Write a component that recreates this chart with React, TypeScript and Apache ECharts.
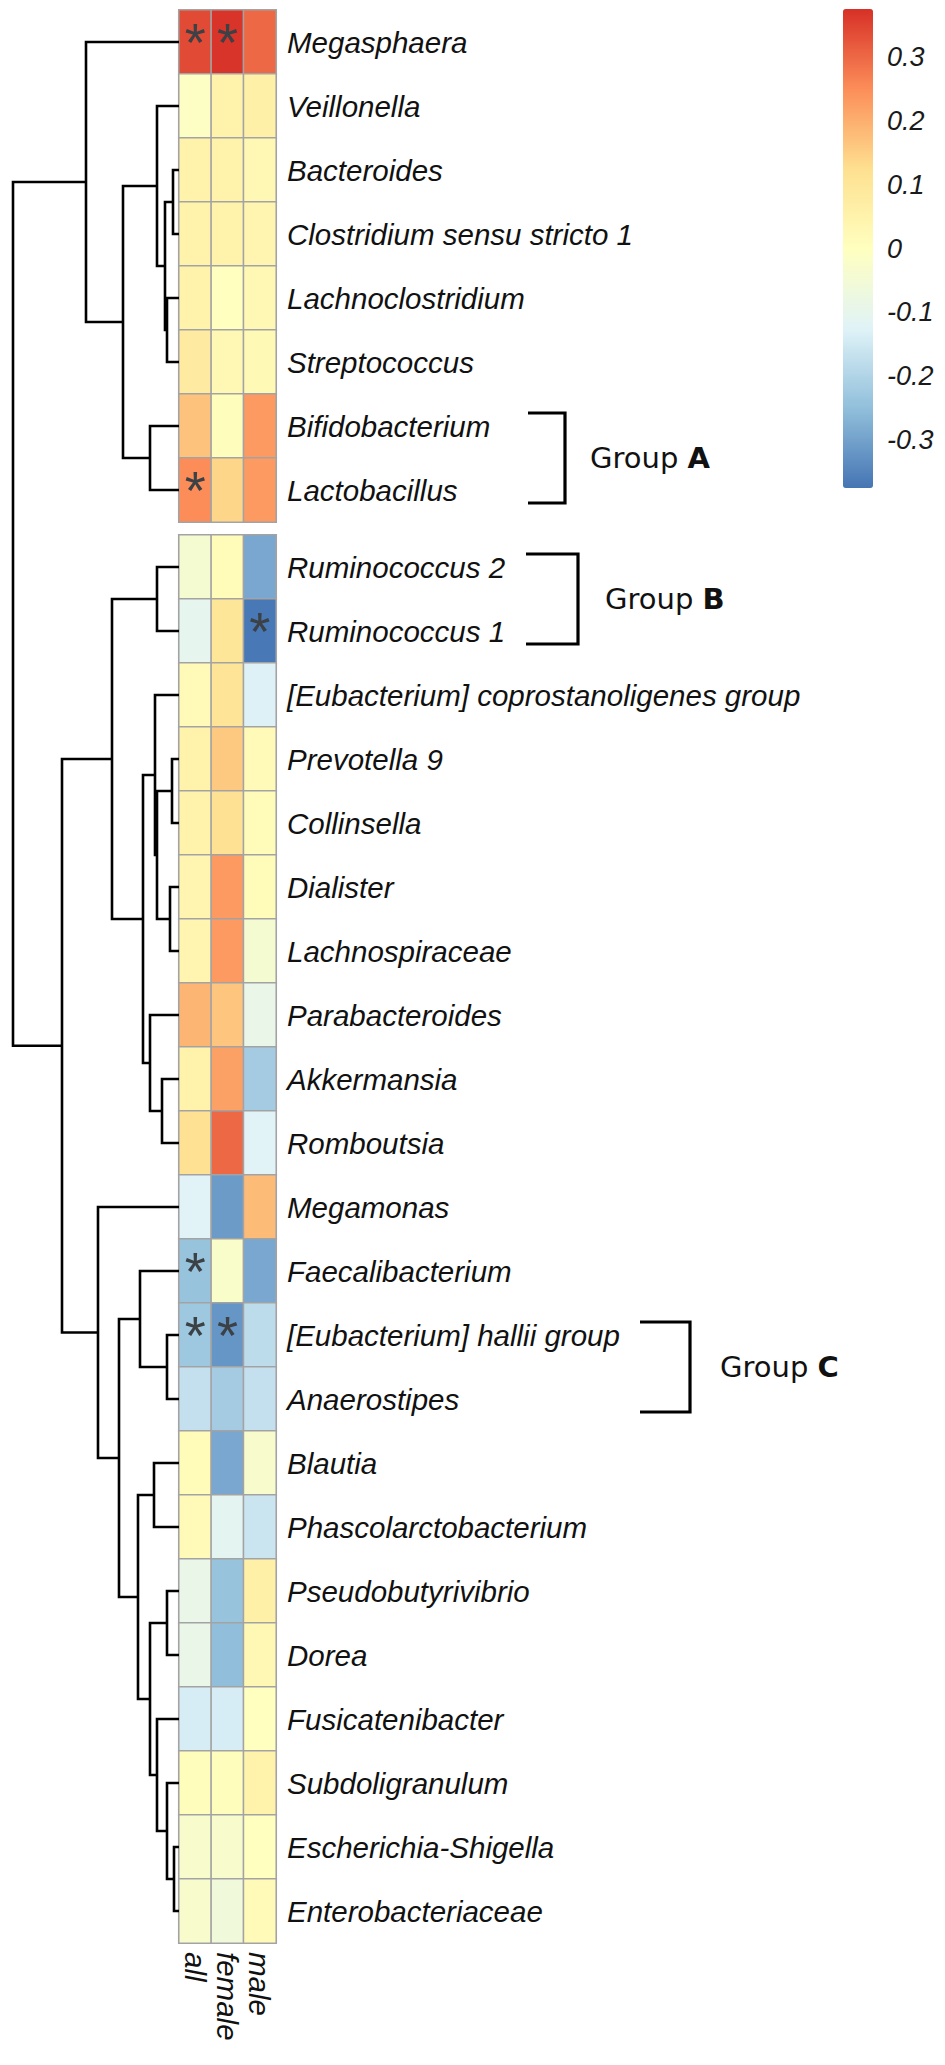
import React, { useEffect, useRef } from "react";
import * as echarts from "echarts";

// ---------------- data ----------------
const columns = ["all", "female", "male"];

const topRows = [
  "Megasphaera",
  "Veillonella",
  "Bacteroides",
  "Clostridium sensu stricto 1",
  "Lachnoclostridium",
  "Streptococcus",
  "Bifidobacterium",
  "Lactobacillus",
];

const bottomRows = [
  "Ruminococcus 2",
  "Ruminococcus 1",
  "[Eubacterium] coprostanoligenes group",
  "Prevotella 9",
  "Collinsella",
  "Dialister",
  "Lachnospiraceae",
  "Parabacteroides",
  "Akkermansia",
  "Romboutsia",
  "Megamonas",
  "Faecalibacterium",
  "[Eubacterium] hallii group",
  "Anaerostipes",
  "Blautia",
  "Phascolarctobacterium",
  "Pseudobutyrivibrio",
  "Dorea",
  "Fusicatenibacter",
  "Subdoligranulum",
  "Escherichia-Shigella",
  "Enterobacteriaceae",
];

const allValues = [
  0.34, -0.01, 0.05, 0.05, 0.05, 0.08, 0.17, 0.25,
  -0.04, -0.1, 0.02, 0.05, 0.05, 0.04, 0.04, 0.19, 0.05, 0.12, -0.12, -0.24,
  -0.23, -0.17, 0.015, 0.02, -0.09, -0.09, -0.14, 0.01, -0.03, -0.03,
];
const femaleValues = [
  0.37, 0.05, 0.05, 0.05, 0.0, 0.03, 0.01, 0.14,
  0.015, 0.1, 0.11, 0.16, 0.12, 0.23, 0.23, 0.165, 0.22, 0.3, -0.31, -0.025,
  -0.32, -0.22, -0.29, -0.11, -0.24, -0.25, -0.14, 0.01, -0.03, -0.06,
];
const maleValues = [
  0.3, 0.06, 0.03, 0.04, 0.03, 0.025, 0.23, 0.23,
  -0.29, -0.37, -0.13, 0.02, 0.015, 0.015, -0.04, -0.09, -0.22, -0.12, 0.18, -0.29,
  -0.18, -0.17, -0.03, -0.16, 0.06, 0.03, 0.0, 0.05, 0.0, 0.02,
];

const significant = [
  ["Megasphaera", "all"],
  ["Megasphaera", "female"],
  ["Lactobacillus", "all"],
  ["Ruminococcus 1", "male"],
  ["Faecalibacterium", "all"],
  ["[Eubacterium] hallii group", "all"],
  ["[Eubacterium] hallii group", "female"],
];

const colorbarTicks = [-0.3, -0.2, -0.1, 0, 0.1, 0.2, 0.3];
const colorMin = -0.375;
const colorMax = 0.375;
const palette = ["#4575B4", "#91BFDB", "#E0F3F8", "#FFFFBF", "#FEE090", "#FC8D59", "#D73027"];

// dendrogram merges: [id, childA, childB, height]
const dendroNodes: [string, string, string, number][] = [
  ["u1", "Bacteroides", "Clostridium sensu stricto 1", 6],
  ["u2", "Lachnoclostridium", "Streptococcus", 12],
  ["u3", "u1", "u2", 14],
  ["u4", "Veillonella", "u3", 22],
  ["u5", "Bifidobacterium", "Lactobacillus", 29],
  ["u6", "u4", "u5", 56],
  ["u7", "Megasphaera", "u6", 93],
  ["l1", "Ruminococcus 2", "Ruminococcus 1", 22],
  ["l2", "Prevotella 9", "Collinsella", 7],
  ["l3", "Dialister", "Lachnospiraceae", 9],
  ["l4", "l2", "l3", 22],
  ["l5", "[Eubacterium] coprostanoligenes group", "l4", 24],
  ["l6", "Akkermansia", "Romboutsia", 17],
  ["l7", "Parabacteroides", "l6", 29],
  ["l8", "l5", "l7", 36],
  ["l9", "l1", "l8", 67],
  ["l10", "[Eubacterium] hallii group", "Anaerostipes", 12],
  ["l11", "Faecalibacterium", "l10", 39],
  ["l12", "Blautia", "Phascolarctobacterium", 25],
  ["l13", "Pseudobutyrivibrio", "Dorea", 12],
  ["l14", "Escherichia-Shigella", "Enterobacteriaceae", 5],
  ["l15", "Subdoligranulum", "l14", 12],
  ["l16", "Fusicatenibacter", "l15", 22],
  ["l17", "l13", "l16", 29],
  ["l18", "l12", "l17", 41],
  ["l19", "l11", "l18", 60],
  ["l20", "Megamonas", "l19", 81],
  ["l21", "l9", "l20", 117],
  ["root", "u7", "l21", 166],
];
const dendroMaxHeight = 166;

const groupNames = ["A", "B", "C"];
const groupMembers = [
  ["Bifidobacterium", "Lactobacillus"],
  ["Ruminococcus 2", "Ruminococcus 1"],
  ["[Eubacterium] hallii group", "Anaerostipes"],
];

// ---------------- layout ----------------
const ROW = 64;
const TOP = 10;
const GAP_PX = 13;
const HM_LEFT = 179;
const HM_W = 97;
const DENDRO_LEFT = 13;
const LABEL_FONT = "Liberation Sans";
const bracketLayout = [
  { arm: 37, vx: 565, labelX: 590 },
  { arm: 52, vx: 578, labelX: 605 },
  { arm: 50, vx: 690, labelX: 720 },
];

const allRows = [...topRows, ...bottomRows];
const valueCols = [allValues, femaleValues, maleValues];
const GAP = GAP_PX / ROW;

function isSig(row: string, col: string) {
  return significant.some((s) => s[0] === row && s[1] === col);
}

function blockData(rows: string[]) {
  const out: any[] = [];
  rows.forEach((r, ri) => {
    const gi = allRows.indexOf(r);
    columns.forEach((c, ci) => {
      out.push([ci, ri, valueCols[ci][gi], isSig(r, c) ? 1 : 0]);
    });
  });
  return out;
}

function leafY(name: string) {
  const i = allRows.indexOf(name);
  return i + 0.5 + (i >= topRows.length ? GAP : 0);
}
const nodeMap: Record<string, { a: string; b: string; h: number }> = {};
dendroNodes.forEach(([id, a, b, h]) => (nodeMap[id] = { a, b, h }));
function nodePos(id: string): { h: number; y: number } {
  const n = nodeMap[id];
  if (!n) return { h: 0, y: leafY(id) };
  return { h: n.h, y: (nodePos(n.a).y + nodePos(n.b).y) / 2 };
}
const dendroSegments = dendroNodes.map(([, a, b, h]) => {
  const pa = nodePos(a);
  const pb = nodePos(b);
  return { coords: [[pa.h, pa.y], [h, pa.y], [h, pb.y], [pb.h, pb.y]] };
});

function groupSeries(rows: string[], gridIdx: number) {
  const data: any[] = [];
  groupMembers.forEach((m, gi) => {
    const a = rows.indexOf(m[0]);
    const b = rows.indexOf(m[m.length - 1]);
    if (a >= 0 && b >= 0) data.push([0, a, b, gi]);
  });
  return {
    type: "custom",
    xAxisIndex: gridIdx,
    yAxisIndex: gridIdx,
    silent: true,
    clip: false,
    z: 10,
    data,
    renderItem: (params: any, api: any) => {
      const a = api.value(1);
      const b = api.value(2);
      const gi = api.value(3);
      const lay = bracketLayout[gi];
      const y0 = api.coord([0, a])[1] - 13;
      const y1 = api.coord([0, b])[1] + 13;
      return {
        type: "group",
        children: [
          {
            type: "polyline",
            shape: { points: [[lay.vx - lay.arm, y0], [lay.vx, y0], [lay.vx, y1], [lay.vx - lay.arm, y1]] },
            style: { stroke: "#000", lineWidth: 3.2, fill: null },
          },
          {
            type: "text",
            style: {
              x: lay.labelX,
              y: (y0 + y1) / 2,
              text: "Group {b|" + groupNames[gi] + "}",
              fontFamily: "DejaVu Sans",
              fontSize: 29,
              fill: "#111",
              verticalAlign: "middle",
              align: "left",
              rich: {
                b: { fontFamily: "DejaVu Sans", fontSize: 29, fontWeight: "bold", fill: "#111" },
              },
            },
          },
        ],
      };
    },
  };
}

const rowLabelStyle = {
  fontSize: 29.5,
  fontStyle: "italic",
  fontFamily: LABEL_FONT,
  color: "#111",
  margin: 11,
};

const heatmapBase = {
  type: "heatmap",
  itemStyle: { borderColor: "#a3a3a3", borderWidth: 1.6 },
  label: {
    show: true,
    formatter: (p: any) => (p.value[3] ? "*" : ""),
    fontSize: 54,
    fontFamily: LABEL_FONT,
    color: "#3b4145",
  },
  emphasis: { disabled: true },
};

const option: any = {
  animation: false,
  backgroundColor: "#fff",
  grid: [
    { left: HM_LEFT, top: TOP, width: HM_W, height: topRows.length * ROW, outerBoundsMode: "none" },
    { left: HM_LEFT, top: TOP + topRows.length * ROW + GAP_PX, width: HM_W, height: bottomRows.length * ROW, outerBoundsMode: "none" },
    { left: DENDRO_LEFT, top: TOP, width: HM_LEFT - DENDRO_LEFT, height: allRows.length * ROW + GAP_PX, outerBoundsMode: "none" },
    { left: 843, top: 9, width: 30, height: 479, outerBoundsMode: "none" },
  ],
  xAxis: [
    { gridIndex: 0, type: "category", data: columns, show: false },
    {
      gridIndex: 1,
      type: "category",
      data: columns,
      position: "bottom",
      axisLine: { show: false },
      axisTick: { show: false },
      axisLabel: { ...rowLabelStyle, rotate: -90, margin: 9, interval: 0 },
    },
    { gridIndex: 2, type: "value", min: 0, max: dendroMaxHeight, inverse: true, show: false },
    { gridIndex: 3, type: "value", show: false },
  ],
  yAxis: [
    {
      gridIndex: 0,
      type: "category",
      data: topRows,
      inverse: true,
      position: "right",
      axisLine: { show: false },
      axisTick: { show: false },
      axisLabel: { ...rowLabelStyle, interval: 0 },
    },
    {
      gridIndex: 1,
      type: "category",
      data: bottomRows,
      inverse: true,
      position: "right",
      axisLine: { show: false },
      axisTick: { show: false },
      axisLabel: { ...rowLabelStyle, interval: 0 },
    },
    { gridIndex: 2, type: "value", min: 0, max: allRows.length + GAP, inverse: true, show: false },
    {
      gridIndex: 3,
      type: "value",
      min: colorMin,
      max: colorMax,
      position: "right",
      axisLine: { show: false },
      axisTick: { show: false },
      splitLine: { show: false },
      axisLabel: {
        customValues: colorbarTicks,
        formatter: (v: number) => (v === 0 ? "0" : v.toFixed(1)),
        fontSize: 27,
        fontStyle: "italic",
        fontFamily: LABEL_FONT,
        color: "#1a1a1a",
        margin: 14,
      },
    },
  ],
  visualMap: {
    type: "continuous",
    min: colorMin,
    max: colorMax,
    dimension: 2,
    seriesIndex: [0, 1],
    left: 843,
    top: 9,
    itemWidth: 30,
    itemHeight: 479,
    padding: 0,
    calculable: false,
    hoverLink: false,
    orient: "vertical",
    inRange: { color: palette },
  },
  series: [
    { ...heatmapBase, xAxisIndex: 0, yAxisIndex: 0, data: blockData(topRows) },
    { ...heatmapBase, xAxisIndex: 1, yAxisIndex: 1, data: blockData(bottomRows) },
    {
      type: "lines",
      coordinateSystem: "cartesian2d",
      xAxisIndex: 2,
      yAxisIndex: 2,
      polyline: true,
      silent: true,
      lineStyle: { color: "#000", width: 2.6, opacity: 1 },
      data: dendroSegments,
    },
    groupSeries(topRows, 0),
    groupSeries(bottomRows, 1),
  ],
};

export default function App() {
  const ref = useRef<HTMLDivElement>(null);
  useEffect(() => {
    const chart = echarts.init(ref.current!, null, { renderer: "svg" });
    chart.setOption(option);
    return () => chart.dispose();
  }, []);
  return (
    <div
      ref={ref}
      style={{ position: "absolute", left: 0, top: 0, width: 945, height: 2065, background: "#fff" }}
    />
  );
}
